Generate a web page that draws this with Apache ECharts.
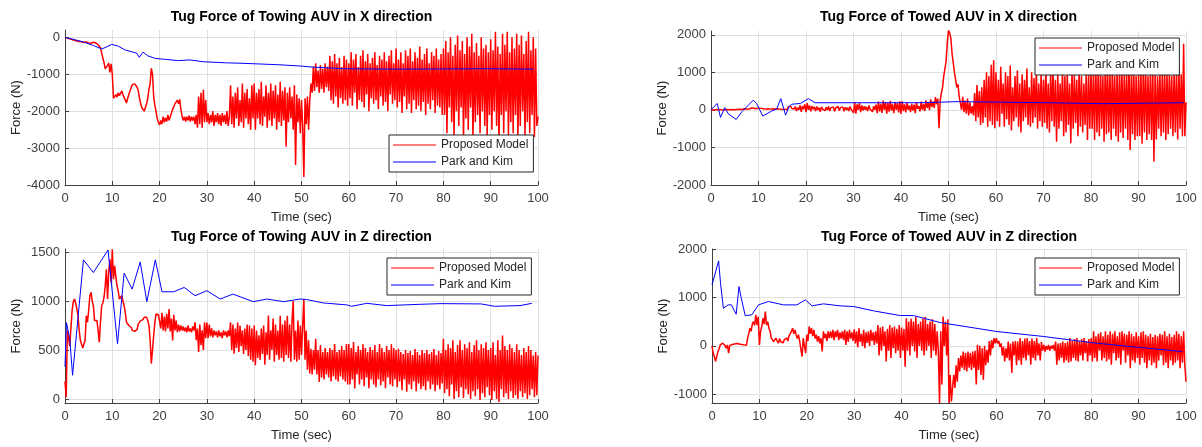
<!DOCTYPE html>
<html>
<head>
<meta charset="utf-8">
<title>Tug Force</title>
<script src="https://cdn.jsdelivr.net/npm/echarts@6/dist/echarts.min.js"></script>
<style>
    html, body { margin: 0; padding: 0; background: #fff; }
    #main { width: 1202px; height: 447px; }
</style>
</head>
<body>
<div id="main"></div>
<script>
    // sample step of the proposed model traces (sec)
    var dt = 0.25;

    // Proposed Model, one value every dt seconds, 0..100 s (one line = 10 s)
    var towingXProposed = [
        0, -10, -20, -30, -40, -50, -60, -70, -80, -90, -100, -105, -110, -115, -120, -130, -140, -130, -120, -135, -150, -155, -160, -145, -130, -140, -150, -170, -200, -240, -280, -420, -560, -680, -850, -880, -760, -700, -950, -720,
        -1000, -1650, -1600, -1550, -1620, -1500, -1580, -1520, -1450, -1550, -1600, -1700, -1780, -1650, -1550, -1450, -1350, -1280, -1250, -1260, -1300, -1350, -1450, -1650, -1800, -1900, -1950, -2000, -1950, -1800, -1650, -1400, -1250, -840, -1000, -1600, -1850, -2000, -2200, -2300,
        -2370, -2250, -2350, -2150, -2300, -2180, -2280, -2100, -2250, -2150, -2050, -1950, -2000, -1800, -1850, -1700, -1800, -1680, -1950, -2130, -2250, -2150, -2280, -2150, -2250, -2120, -2280, -2150, -2250, -2150, -2350, -2100, -2450, -1600, -2350, -1500, -2450, -1420, -2300, -1700,
        -2300, -2050, -2350, -2100, -2300, -2000, -2400, -2100, -2300, -2050, -2350, -2100, -2400, -2050, -2300, -2100, -2350, -2000, -2400, -2150, -1300, -2350, -1600, -2450, -1500, -2200, -1350, -2400, -1700, -2300, -1250, -2450, -1500, -2200, -1400, -2350, -1650, -2500, -1300, -2200,
        -1250, -2500, -1500, -2200, -1400, -2350, -1200, -2400, -1600, -2150, -1300, -2450, -1500, -2250, -1250, -2400, -1450, -2200, -1300, -2500, -1550, -2300, -1200, -2400, -1450, -2250, -1350, -2960, -1500, -2300, -1350, -2200, -1600, -2500, -1300, -3460, -1550, -2300, -1650, -2600,
        -1700, -2400, -3780, -1650, -2350, -1600, -2500, -1700, -1250, -1500, -800, -1450, -700, -1350, -900, -1500, -750, -1400, -850, -1500, -700, -1350, -800, -1450, -500, -1700, -650, -1800, -450, -1600, -700, -1900, -550, -1650, -800, -1800, -500, -1700, -600, -1850,
        -700, -1650, -400, -1850, -600, -1500, -450, -1950, -800, -1700, -500, -1750, -350, -1900, -650, -1550, -450, -2000, -700, -1650, -550, -1800, -400, -1700, -750, -1950, -500, -1600, -600, -1850, -400, -1750, -650, -2000, -500, -1550, -350, -1800, -700, -1700,
        -300, -1900, -600, -1750, -400, -2050, -700, -1600, -350, -1950, -500, -1800, -300, -2050, -650, -1700, -400, -1950, -550, -1850, -250, -2000, -600, -1750, -450, -2100, -300, -1800, -700, -1950, -400, -1700, -500, -2050, -300, -1850, -600, -1900, -450, -2100,
        -300, -2100, -100, -2600, -400, -1900, 0, -2300, -500, -2700, -200, -2000, 50, -2400, -350, -1900, -100, -2750, -450, -2200, 0, -2500, -250, -1900, 100, -2800, -400, -2300, -150, -2100, -500, -2600, 0, -2000, -300, -2400, -200, -2700, -400, -2100,
        -50, -2500, -350, -2000, 150, -2400, -250, -2900, -450, -2100, 100, -2600, -200, -2000, 150, -2700, -400, -2300, 0, -2600, -300, -2100, 100, -2800, -200, -2400, 50, -2000, -450, -2700, -100, -2300, 150, -2600, -350, -2100, 0, -2700, -300, -2400,
        -2150
    ];
    var towedXProposed = [
        0, 5, 0, 10, 5, 0, 10, 0, 5, 15, 0, 10, 5, 0, 10, 20, 5, 15, 10, 0, 5, 20, 10, 0, 15, 25, 10, 20, 30, 15, 25, 40, 20, 35, 50, 30, 45, 55, 30, 40,
        50, 20, 40, 10, 30, 0, 20, 10, 30, 0, 20, 10, 30, 0, 25, 10, 30, 0, 20, 40, 10, 50, 20, 60, 0, 80, 30, 100, 40, 60, 20, 90, -30, 60, 0, 120, -50, 100, 20, 150,
        -60, 180, 0, 120, -40, 100, 20, 80, -30, 90, 0, 60, -50, 80, 20, 50, -20, 70, 0, 90, -30, 60, 10, 80, -40, 50, 0, 90, -20, 60, 10, 80, -40, 70, 0, 60, -30, 90, 20, 70,
        -80, 200, -100, 150, 0, 180, -60, 120, -20, 100, 0, 80, -30, 120, 20, 60, -50, 100, 0, 140, -90, 220, -40, 160, -80, 250, 0, 200, -100, 180, -50, 240, -20, 150, -90, 200, 0, 180, -70, 230,
        -110, 230, -30, 150, -70, 190, 0, 120, -60, 160, -20, 140, -90, 200, 30, 100, -40, 220, 0, 160, -30, 250, 50, 200, -10, 280, 80, 220, 50, 340, 150, 300, -490, 250, 450, 600, 900, 1100, 1300, 1810,
        2120, 2050, 1900, 1500, 1250, 1000, 800, 600, 680, 350, 400, 0, 350, -60, 250, -100, 300, -150, 200, -100, 100, -150, 450, -300, 660, -200, 500, -400, 600, -350, 800, -200, 1000, -450, 900, -300, 1200, -400, 1320, -490,
        1000, -300, 800, -450, 1150, -100, 700, -450, 1000, -250, 900, -400, 1180, -550, 600, -300, 900, -200, 1050, -450, 700, -600, 950, -300, 800, -200, 1100, -400, 600, -450, 1000, -350, 850, -200, 1100, -500, 700, -300, 1000, -450,
        800, -350, 1150, -500, 700, -600, 1000, -300, 1140, -450, 800, -850, 1000, -500, 700, -300, 1150, -700, 900, -600, 1050, -400, 700, -890, 1100, -500, 950, -350, 800, -700, 1100, -450, 900, -600, 700, -400, 1050, -800, 950, -500,
        1100, -500, 950, -800, 1300, -600, 1000, -700, 1200, -500, 900, -850, 1310, -650, 1150, -600, 1000, -800, 1250, -500, 900, -700, 1150, -850, 1000, -600, 1200, -750, 950, -500, 1100, -800, 1300, -1070, 1000, -650, 1250, -800, 900, -700,
        1000, -700, 1200, -900, 1100, -600, 1300, -800, 900, -650, 1100, -800, 1140, -1380, 1000, -790, 900, -500, 1100, -700, 950, -600, 1200, -800, 1000, -650, 1150, -500, 900, -700, 1100, -600, 1000, -790, 1200, -500, 950, -700, 1760, -700,
        200
    ];
    var towingZProposed = [
        180, 20, 700, 620, 540, 720, 900, 990, 1020, 980, 920, 850, 700, 600, 560, 520, 510, 600, 850, 783, 900, 1054, 1087, 1000, 950, 800, 783, 800, 700, 581, 783, 952, 980, 1037, 1150, 1324, 1020, 1300, 1425, 1189,
        1527, 1222, 1358, 1250, 1155, 1100, 1020, 1000, 1054, 1000, 952, 880, 783, 770, 750, 760, 730, 700, 716, 690, 683, 710, 767, 780, 800, 817, 810, 834, 820, 834, 800, 750, 600, 362, 500, 649, 780, 868, 850, 860,
        851, 720, 880, 700, 840, 690, 870, 720, 918, 690, 820, 598, 860, 700, 800, 683, 760, 690, 750, 700, 740, 690, 730, 680, 750, 690, 720, 680, 740, 700, 783, 600, 720, 480, 760, 550, 700, 500, 783, 620,
        780, 620, 760, 640, 720, 630, 700, 650, 690, 630, 700, 640, 680, 620, 700, 650, 690, 630, 700, 640, 783, 500, 760, 463, 720, 520, 780, 480, 750, 540, 700, 460, 720, 500, 760, 440, 750, 400, 720, 380,
        750, 345, 700, 420, 650, 400, 720, 460, 750, 350, 680, 450, 851, 400, 700, 500, 820, 380, 760, 450, 700, 400, 850, 420, 760, 380, 800, 450, 850, 420, 760, 380, 800, 1000, 400, 700, 380, 800, 400, 750,
        450, 750, 1020, 400, 700, 300, 600, 260, 513, 250, 500, 300, 615, 250, 500, 175, 550, 220, 480, 200, 520, 250, 480, 220, 520, 180, 500, 230, 560, 200, 480, 180, 500, 230, 540, 200, 500, 180, 560, 150,
        560, 150, 520, 200, 581, 108, 480, 250, 540, 150, 500, 200, 560, 130, 520, 220, 480, 110, 530, 200, 500, 150, 550, 120, 480, 200, 560, 140, 520, 180, 480, 110, 540, 220, 500, 150, 560, 130, 520, 200,
        500, 120, 513, 180, 480, 90, 460, 200, 500, 74, 470, 150, 490, 100, 450, 180, 510, 80, 480, 160, 450, 100, 500, 130, 470, 90, 500, 180, 460, 100, 480, 150, 510, 80, 450, 140, 490, 100, 470, 160,
        615, 60, 500, 100, 560, 30, 520, 150, 600, 0, 480, 80, 550, 20, 600, 120, 500, 10, 560, 100, 520, 50, 580, 0, 480, 80, 550, 30, 600, 100, 500, -10, 560, 60, 520, 20, 580, 120, 500, 40,
        520, -10, 580, 80, 450, 0, 600, -30, 500, 100, 648, 20, 540, 60, 500, 0, 560, 80, 520, 10, 480, 40, 560, 0, 500, 80, 450, 20, 520, 60, 480, 0, 540, 40, 500, 100, 445, 20, 480, 40,
        445
    ];
    var towedZProposed = [
        0, -150, -220, -320, -300, -117, -60, 20, 30, 55, 40, 10, -48, 20, -150, 10, 20, 30, 10, 40, 20, 50, 20, 40, 10, 30, 50, 20, 40, 10, 160, 250, 365, 300, 450, 500, 420, 640, 430, 600,
        20, 300, 400, 570, 450, 710, 430, 500, 365, 300, 160, 200, 90, 120, 160, 100, 55, 150, 90, 125, 60, 130, 90, 160, 100, 200, 160, 300, 365, 250, 330, 230, 150, 230, 90, 50, -220, 160, 0, -150,
        230, 100, 400, 250, 365, 200, 330, 150, 230, 90, 200, 50, 160, -117, 300, 160, 250, 100, 300, 160, 300, 160, 330, 120, 300, 180, 330, 120, 280, 150, 300, 120, 330, 20, 300, 80, 330, 150, 280, 100,
        340, 50, 300, -30, 365, 80, 250, 0, 330, -48, 280, 60, 300, 0, 330, 100, 280, 20, 300, 50, 430, -200, 380, -100, 400, 0, 300, -320, 350, -100, 430, -250, 380, -50, 400, -150, 350, -100, 430, -250,
        380, -100, 350, -430, 570, -100, 500, -200, 560, 0, 500, -117, 600, -250, 450, 0, 500, -100, 570, -200, 600, -100, 450, 0, 500, -250, 550, -100, 450, -200, 300, -100, -1180, 300, -800, 605, 0, 500, -200, 550,
        -1180, -600, -1150, -870, -600, -870, -400, -740, -250, -530, -200, -450, -117, -500, -150, -530, -120, -450, -150, -500, -120, -450, -100, -800, 20, -500, 0, -600, -50, -700, 0, -400, -80, -350, 100, -200, 120, -50, 160, 50,
        160, 50, 100, -20, 50, -200, -15, -320, -50, -250, 90, -300, 50, -560, 90, -200, 100, -400, 90, -300, 160, -390, 100, -250, 150, -300, 160, -200, 100, -390, 150, -250, 100, -300, 160, -200, 50, -300, 80, -100,
        20, -117, 0, -80, 20, -100, 0, -60, 20, -100, 90, -390, 50, -300, 60, -250, 90, -350, 60, -300, 90, -350, 160, -320, 100, -250, 140, -300, 160, -320, 100, -200, 140, -300, 160, -150, 100, -320, 140, -200,
        160, -320, 300, -250, 200, -320, 250, -100, 280, -300, 200, -250, 300, -320, 230, -280, 300, -390, 250, -150, 300, -300, 200, -250, 280, -390, 300, -100, 250, -350, 230, -200, 300, -460, 250, -300, 200, -350, 280, -250,
        200, -390, 280, -250, 300, -350, 230, -460, 200, -300, 250, -400, 180, -350, 230, -460, 200, -300, 250, -200, 230, -400, 300, -350, 200, -460, 250, -300, 180, -400, 230, -350, 300, -300, 250, -460, 200, -350, 300, -400,
        -740
    ];

    // Park and Kim, [time, force]
    var towingXPark = [[0, 0], [2, -60], [4, -130], [6, -220], [7.8, -316], [8.2, -330], [9.9, -190], [11.3, -240],
        [12.7, -340], [14.1, -390], [15.2, -430], [15.7, -540], [16.5, -400], [17.5, -500], [19.1, -570], [21.6, -600],
        [24, -630], [26.4, -610], [29.2, -660], [34.2, -690], [37, -700], [45, -740], [50.2, -780], [51.8, -800],
        [58.8, -850], [70.3, -860], [89.8, -850], [99, -860]];
    var towedXPark = [[0, 0], [1.3, 170], [2, -200], [2.9, 60], [3.6, -100], [5.3, -255], [6.5, -50], [8.9, 260],
        [9.6, 170], [10.9, -165], [12.8, -30], [13.8, 20], [14.7, 300], [15.7, -140], [16.5, 100], [17, 150],
        [18.8, 170], [20.5, 300], [21.9, 190], [44, 190], [44.4, 240], [52, 220], [52.1, 190], [71, 190],
        [71.1, 165], [82.7, 165], [82.8, 190], [99.5, 190]];
    var towingZPark = [[0, 330], [0.3, 780], [0.6, 800], [1.0, 620], [1.6, 243], [3.9, 1419], [6.0, 1290], [9.1, 1520],
        [11.1, 564], [12.5, 1284], [14.2, 1121], [15.9, 1398], [17.3, 993], [19.1, 1419], [20.5, 1094], [23, 1094],
        [25.2, 1138], [27.5, 1054], [30, 1105], [32.8, 1020], [35.5, 1070], [39.8, 993], [42.7, 1020], [46.2, 993],
        [49.7, 1020], [51.1, 1015], [54.6, 980], [59.6, 960], [60.6, 946], [63.8, 976], [68, 953], [75, 966],
        [79.5, 973], [88, 970], [90.8, 946], [96.2, 953], [98.7, 976]];
    var towedZPark = [[0, 1260], [1.4, 1755], [1.8, 1290], [2.4, 777], [3.4, 846], [4.1, 846], [5.1, 653], [5.7, 1225],
        [6.1, 1020], [7.0, 626], [8.4, 640], [9.8, 846], [11.9, 915], [15.1, 846], [17.9, 846], [19.7, 950],
        [21.1, 826], [23.5, 867], [27, 826], [29.9, 812], [34.1, 722], [39.7, 626], [42.5, 626], [48.2, 480],
        [60.1, 296], [70, 193], [79.8, 69], [89.7, -28], [99.2, -117]];

    // y tick labels of each panel
    var towingXTicks = [-4000, -3000, -2000, -1000, 0];
    var towedXTicks = [-2000, -1000, 0, 1000, 2000];
    var towingZTicks = [0, 500, 1000, 1500];
    var towedZTicks = [-1000, 0, 1000, 2000];

    var names = ['Proposed Model', 'Park and Kim'];
    var font = 'Liberation Sans, Arial, Helvetica, sans-serif';

    function timed(values) {
        var out = [];
        for (var i = 0; i < values.length; i++) {
            out.push([i * dt, values[i]]);
        }
        return out;
    }

    var panels = [
        {title: 'Tug Force of Towing AUV in X direction', grid: {left: 65, top: 30, width: 473, height: 155},
            min: -4000, max: 200, ticks: towingXTicks, red: towingXProposed, blue: towingXPark,
            titleTop: 10, legend: {left: 389, top: 135}},
        {title: 'Tug Force of Towed AUV in X direction', grid: {left: 711, top: 31, width: 475, height: 154},
            min: -2000, max: 2100, ticks: towedXTicks, red: towedXProposed, blue: towedXPark,
            titleTop: 10, legend: {left: 1035, top: 38}},
        {title: 'Tug Force of Towing AUV in Z direction', grid: {left: 65, top: 249, width: 473, height: 154},
            min: -40, max: 1530, ticks: towingZTicks, red: towingZProposed, blue: towingZPark,
            titleTop: 230, legend: {left: 387, top: 258}},
        {title: 'Tug Force of Towed AUV in Z direction', grid: {left: 712, top: 249, width: 474, height: 154},
            min: -1180, max: 2000, ticks: towedZTicks, red: towedZProposed, blue: towedZPark,
            titleTop: 230, legend: {left: 1035, top: 258}}
    ];

    var option = {
        animation: false,
        backgroundColor: '#fff',
        title: [], grid: [], xAxis: [], yAxis: [], legend: [], series: []
    };

    function plain(v) {
        return String(v);
    }

    panels.forEach(function (p, i) {
        option.grid.push({left: p.grid.left, top: p.grid.top, width: p.grid.width, height: p.grid.height, containLabel: false});
        option.title.push({
            text: p.title,
            left: p.grid.left + p.grid.width / 2,
            top: p.titleTop,
            textAlign: 'center',
            padding: 0,
            textStyle: {fontFamily: font, fontSize: 14, fontWeight: 'bold', color: '#000'}
        });
        option.xAxis.push({
            type: 'value', gridIndex: i, min: 0, max: 100, interval: 10,
            name: 'Time (sec)', nameLocation: 'middle', nameGap: 26,
            nameTextStyle: {fontFamily: font, fontSize: 13, color: '#262626'},
            axisLine: {onZero: false, lineStyle: {color: '#404040', width: 1}},
            axisTick: {inside: true, length: 4, lineStyle: {color: '#404040'}},
            axisLabel: {fontFamily: font, fontSize: 13, color: '#404040', margin: 7, formatter: plain},
            splitLine: {show: true, lineStyle: {color: '#e0e0e0', width: 1}}
        });
        option.yAxis.push({
            type: 'value', gridIndex: i, min: p.min, max: p.max,
            name: 'Force (N)', nameLocation: 'middle', nameGap: 42,
            nameTextStyle: {fontFamily: font, fontSize: 13, color: '#262626'},
            axisLine: {show: true, lineStyle: {color: '#404040', width: 1}},
            axisTick: {show: true, inside: true, length: 4, customValues: p.ticks, lineStyle: {color: '#404040'}},
            axisLabel: {fontFamily: font, fontSize: 13, color: '#404040', margin: 5, customValues: p.ticks, formatter: plain},
            splitLine: {show: true, lineStyle: {color: '#e0e0e0', width: 1}}
        });
        option.legend.push({
            orient: 'vertical', left: p.legend.left, top: p.legend.top,
            data: names,
            padding: [3, 5, 3, 4], itemGap: 3, itemWidth: 43, itemHeight: 1,
            icon: 'rect',
            borderColor: '#262626', borderWidth: 1, borderRadius: 0, backgroundColor: '#fff',
            selectedMode: false,
            textStyle: {fontFamily: font, fontSize: 12, color: '#262626', lineHeight: 14}
        });
        option.series.push({
            name: names[0], type: 'line', xAxisIndex: i, yAxisIndex: i,
            data: timed(p.red), symbol: 'none', showSymbol: false,
            color: '#ff0000', lineStyle: {color: '#ff0000', width: 1.5}
        });
        option.series.push({
            name: names[1], type: 'line', xAxisIndex: i, yAxisIndex: i,
            data: p.blue, symbol: 'none', showSymbol: false,
            color: '#0000ff', lineStyle: {color: '#0000ff', width: 1}
        });
    });

    var chart = echarts.init(document.getElementById('main'));
    chart.setOption(option);
</script>
</body>
</html>
